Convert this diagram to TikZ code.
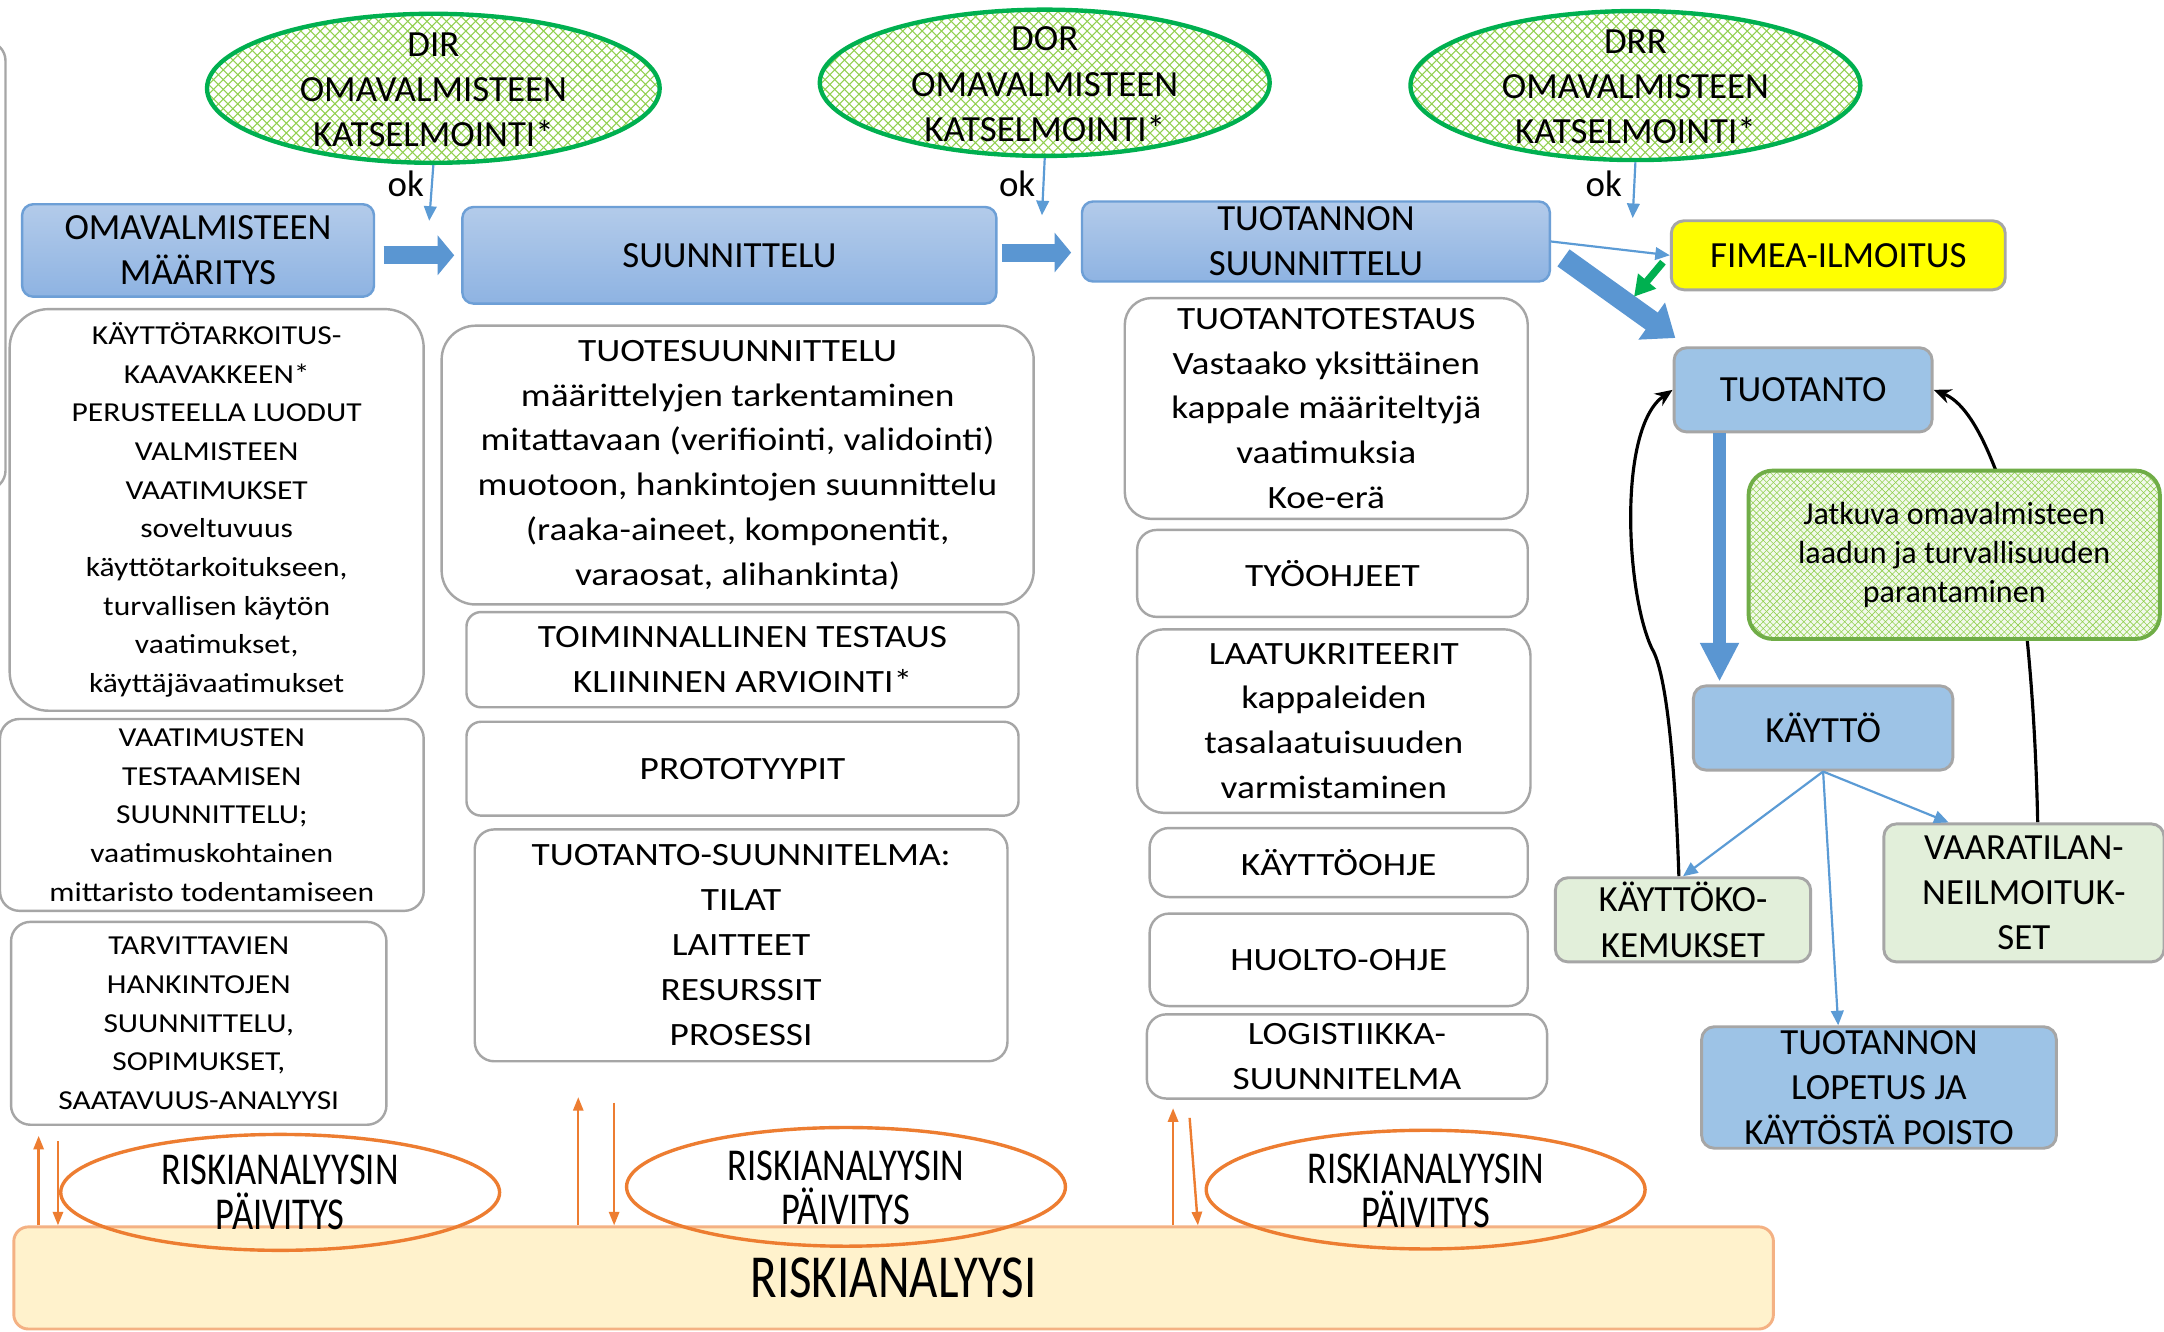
\documentclass[tikz,border=0pt]{standalone}
\usepackage{fontspec}
\setmainfont{Carlito}
\newfontfamily\widefont[FakeStretch=1.15]{Carlito}
\newfontfamily\narrowfont[FakeStretch=0.8]{Carlito}
\usetikzlibrary{shapes.geometric,arrows.meta,calc,patterns,backgrounds}

\definecolor{headtop}{HTML}{B3CBEA}
\definecolor{headbot}{HTML}{8EB3E2}
\definecolor{headline}{HTML}{6D9FD6}
\definecolor{stageblue}{HTML}{9DC3E6}
\definecolor{boxgray}{HTML}{A6A6A6}
\definecolor{flowblue}{HTML}{5B9BD5}
\definecolor{fatblue}{HTML}{5A96D2}
\definecolor{revgreen}{HTML}{00B050}
\definecolor{hatchgreen}{HTML}{92D050}
\definecolor{jatline}{HTML}{70AD47}
\definecolor{jatfill}{HTML}{F2F9EC}
\definecolor{palegreen}{HTML}{E2EFDA}
\definecolor{riskfill}{HTML}{FFF2CC}
\definecolor{riskline}{HTML}{F4B183}
\definecolor{riskorange}{HTML}{ED7D31}
\definecolor{notice}{HTML}{FFFF00}

\pgfdeclarepatternformonly{revgrid}{\pgfqpoint{-0.5pt}{-0.5pt}}{\pgfqpoint{2.5pt}{2.5pt}}{\pgfqpoint{2pt}{2pt}}{%
  \pgfsetlinewidth{0.22pt}%
  \pgfpathmoveto{\pgfqpoint{0pt}{0pt}}\pgfpathlineto{\pgfqpoint{2pt}{2pt}}%
  \pgfpathmoveto{\pgfqpoint{0pt}{2pt}}\pgfpathlineto{\pgfqpoint{2pt}{0pt}}%
  \pgfusepath{stroke}}
\pgfdeclarepatternformonly{jatgrid}{\pgfqpoint{-0.5pt}{-0.5pt}}{\pgfqpoint{1.9pt}{1.9pt}}{\pgfqpoint{1.4pt}{1.4pt}}{%
  \pgfsetlinewidth{0.12pt}%
  \pgfpathmoveto{\pgfqpoint{0pt}{0pt}}\pgfpathlineto{\pgfqpoint{1.4pt}{1.4pt}}%
  \pgfpathmoveto{\pgfqpoint{0pt}{1.4pt}}\pgfpathlineto{\pgfqpoint{1.4pt}{0pt}}%
  \pgfusepath{stroke}}

\begin{document}
\begin{tikzpicture}[x=0.01cm, y=-0.01cm, font=\fontsize{7.6}{9.3}\selectfont,
    boxsize/.style 2 args={minimum width=#1*0.01cm, minimum height=#2*0.01cm},
    phasebox/.style={draw=headline, line width=0.5pt, top color=headtop, bottom color=headbot, rounded corners=2.3pt, align=center, inner sep=0pt},
    stagebox/.style={draw=boxgray, line width=0.6pt, fill=stageblue, rounded corners=2.6pt, align=center, inner sep=0pt},
    taskbox/.style={draw=boxgray, line width=0.5pt, rounded corners=4pt, align=center, inner sep=0pt, font=\widefont\fontsize{6.7}{9.25}\selectfont},
    taskboxone/.style={taskbox, font=\widefont\fontsize{5.65}{7.97}\selectfont},
    jatbox/.style={draw=jatline, line width=0.8pt, rounded corners=5pt, preaction={fill=jatfill}, pattern=jatgrid, pattern color=hatchgreen, align=center, inner sep=0pt, font=\fontsize{6.6}{8}\selectfont},
    reviewell/.style={ellipse, draw=revgreen, line width=0.9pt, preaction={fill=white}, pattern=revgrid, pattern color=hatchgreen, inner sep=0pt},
    updateell/.style={ellipse, draw=riskorange, line width=0.7pt, inner sep=0pt},
    updatetext/.style={align=center, font=\narrowfont\fontsize{9.4}{9.1}\selectfont},
    flowarrow/.style={draw=flowblue, line width=0.45pt, -{Triangle[length=3pt,width=2.6pt]}},
    fatarrow/.style n args={3}{draw=fatblue, line width=#1, -{Triangle[length=#2,width=#3]}},
    backarrow/.style={draw=black, line width=0.65pt, -{Stealth[length=3.6pt,width=3pt]}},
    riskarrow/.style={draw=riskorange, line width=0.5pt, -{Triangle[length=2.8pt,width=2.1pt]}}]

    \useasboundingbox (0,0) rectangle (1568,965);
    \clip (0,0) rectangle (1568,965);

    \draw[draw=boxgray, line width=0.5pt, rounded corners=4pt] (-100,30) rectangle (4,355);

    \node[reviewell, boxsize={328}{108}] (dir) at (314,64) {};
    \node[align=center] (dirtext) at (314,65) {DIR\\OMAVALMISTEEN\\KATSELMOINTI*};
    \node[reviewell, boxsize={326}{106}] (dor) at (757,60) {};
    \node[align=center] (dortext) at (757,61) {DOR\\OMAVALMISTEEN\\KATSELMOINTI*};
    \node[reviewell, boxsize={326}{108}] (drr) at (1185,62) {};
    \node[align=center] (drrtext) at (1185,63) {DRR\\OMAVALMISTEEN\\KATSELMOINTI*};

    \node (ok1) at (294,133) {ok};
    \node (ok2) at (737,133) {ok};
    \node (ok3) at (1162,133) {ok};

    \node[phasebox, boxsize={255}{67}] (omd) at (143.5,181.5) {OMAVALMISTEEN\\MÄÄRITYS};
    \node[phasebox, boxsize={387}{70}] (suu) at (528.5,185) {SUUNNITTELU};
    \node[phasebox, boxsize={339}{58}] (tsu) at (953.5,175) {TUOTANNON\\SUUNNITTELU};
    \node[stagebox, fill=notice, boxsize={242}{50}] (fim) at (1332,185) {FIMEA-ILMOITUS};

    \node[stagebox, boxsize={187}{61}] (tuo) at (1306.5,282.5) {TUOTANTO};
    \node[stagebox, boxsize={188}{61}] (kay) at (1321,527.5) {KÄYTTÖ};
    \node[jatbox, boxsize={298}{122}] (jat) at (1416,402) {Jatkuva omavalmisteen\\laadun ja turvallisuuden\\parantaminen};
    \node[stagebox, fill=palegreen, boxsize={185}{61}] (kok) at (1219.5,666.5) {KÄYTTÖKO-\\KEMUKSET};
    \node[stagebox, fill=palegreen, boxsize={203}{100}] (vaa) at (1466.5,647) {VAARATILAN-\\NEILMOITUK-\\SET};
    \node[stagebox, boxsize={257}{88}] (lop) at (1361.5,788) {TUOTANNON\\LOPETUS JA\\KÄYTÖSTÄ POISTO};

    \node[taskboxone, rounded corners=8pt, boxsize={300}{291}] (req) at (157,369.5) {KÄYTTÖTARKOITUS-\\KAAVAKKEEN*\\PERUSTEELLA LUODUT\\VALMISTEEN\\VAATIMUKSET\\soveltuvuus\\käyttötarkoitukseen,\\turvallisen käytön\\vaatimukset,\\käyttäjävaatimukset};
    \node[taskboxone, boxsize={307}{139}] (tst) at (153.5,590.5) {VAATIMUSTEN\\TESTAAMISEN\\SUUNNITTELU;\\vaatimuskohtainen\\mittaristo todentamiseen};
    \node[taskboxone, boxsize={272}{147}] (hank) at (144,741.5) {TARVITTAVIEN\\HANKINTOJEN\\SUUNNITTELU,\\SOPIMUKSET,\\SAATAVUUS-ANALYYSI};

    \node[taskbox, rounded corners=7pt, boxsize={429}{202}] (tsn) at (534.5,337) {TUOTESUUNNITTELU\\määrittelyjen tarkentaminen\\mitattavaan (verifiointi, validointi)\\muotoon, hankintojen suunnittelu\\(raaka-aineet, komponentit,\\varaosat, alihankinta)};
    \node[taskbox, rounded corners=3pt, boxsize={400}{69}] (toim) at (538,478) {TOIMINNALLINEN TESTAUS\\KLIININEN ARVIOINTI*};
    \node[taskbox, rounded corners=3pt, boxsize={400}{68}] (prot) at (538,557) {PROTOTYYPIT};
    \node[taskbox, boxsize={386}{168}] (tsp) at (537,685) {TUOTANTO-SUUNNITELMA:\\TILAT\\LAITTEET\\RESURSSIT\\PROSESSI};

    \node[taskbox, rounded corners=5.5pt, boxsize={292}{160}] (ttest) at (961,296) {TUOTANTOTESTAUS\\Vastaako yksittäinen\\kappale määriteltyjä\\vaatimuksia\\Koe-erä};
    \node[taskbox, boxsize={283}{63}] (tyo) at (965.5,415.5) {TYÖOHJEET};
    \node[taskbox, rounded corners=5.5pt, boxsize={285}{133}] (laatu) at (966.5,522.5) {LAATUKRITEERIT\\kappaleiden\\tasalaatuisuuden\\varmistaminen};
    \node[taskbox, boxsize={274}{50}] (kohje) at (970,625) {KÄYTTÖOHJE};
    \node[taskbox, boxsize={274}{67}] (huolto) at (970,695.5) {HUOLTO-OHJE};
    \node[taskbox, boxsize={290}{61}] (logi) at (976,765.5) {LOGISTIIKKA-\\SUUNNITELMA};

    \node[draw=riskline, line width=0.6pt, fill=riskfill, rounded corners=3pt, boxsize={1275}{74}, font=\narrowfont\fontsize{12.6}{15}\selectfont] (ria) at (647.5,926) {RISKIANALYYSI};
    \node[updateell, boxsize={318}{84}] (rp1) at (203,864) {};
    \node[updatetext] (rp1text) at (203,864) {RISKIANALYYSIN\\PÄIVITYS};
    \node[updateell, boxsize={318}{86}] (rp2) at (613,860) {};
    \node[updatetext] (rp2text) at (613,861) {RISKIANALYYSIN\\PÄIVITYS};
    \node[updateell, boxsize={318}{86}] (rp3) at (1033,862) {};
    \node[updatetext] (rp3text) at (1033,863) {RISKIANALYYSIN\\PÄIVITYS};

    \coordinate (dirend) at (311,160);
    \coordinate (dorend) at (755,156);
    \coordinate (drrend) at (1183,158);
    \draw[flowarrow] (dir.south) -- (dirend);
    \draw[flowarrow] (dor.south) -- (dorend);
    \draw[flowarrow] (drr.south) -- (drrend);

    \draw[fatarrow={3.7pt}{3.4pt}{8pt}] ($(omd.east)+(6,3.5)$) -- ($(suu.west)+(-5,0)$);
    \draw[fatarrow={3.7pt}{3.4pt}{8pt}] ($(suu.east)+(3,-2)$) -- ($(tsu.west)+(-7,8)$);
    \draw[fatarrow={4.3pt}{6pt}{9pt}] ($(tsu.south east)+(9,-18)$) -- ($(tuo.north west)+(2,-6)$);
    \draw[fatarrow={2.7pt}{8pt}{7.5pt}] ($(tuo.south west)+(34,0)$) -- ($(kay.north west)+(20,-2)$);

    \draw[flowarrow] (tsu.east) -- (fim.west);
    \coordinate (fimend) at (1184,215);
    \draw[draw=revgreen, line width=1.5pt, -{Triangle[length=4.2pt,width=4.6pt]}] ($(fim.west)+(-5,5)$) -- (fimend);

    \draw[flowarrow] (kay.south) -- (kok.north);
    \draw[flowarrow] (kay.south) -- ($(lop.north west)+(100,0)$);
    \draw[flowarrow] (kay.south) -- ($(vaa.north west)+(48,0)$);

    \coordinate (ru1) at (28,823);
    \coordinate (rd1) at (42,827);
    \coordinate (ru2) at (419,795);
    \coordinate (rd2) at (445,799);
    \coordinate (ru3) at (850,803);
    \coordinate (rd3) at (862,810);
    \draw[riskarrow] (ria.north -| ru1) -- (ru1);
    \draw[riskarrow] (rd1) -- (ria.north -| rd1);
    \draw[riskarrow] (ria.north -| ru2) -- (ru2);
    \draw[riskarrow] (rd2) -- (ria.north -| rd2);
    \draw[riskarrow] (ria.north -| ru3) -- (ru3);
    \draw[riskarrow] (rd3) -- ($(ria.north -| rd3)+(6,0)$);

    \begin{scope}[on background layer]
        \fill[white] (0,0) rectangle (1568,965);
        \draw[backarrow] ($(kok.north)+(-3,0)$) .. controls (1214,560) and (1208,488) .. (1197,470) .. controls (1178,430) and (1172,310) .. (tuo.west);
        \draw[backarrow] ($(vaa.north)+(10,0)$) .. controls (1474,480) and (1462,380) .. (1445,338) .. controls (1432,305) and (1420,290) .. (tuo.east);
    \end{scope}
\end{tikzpicture}
\end{document}
